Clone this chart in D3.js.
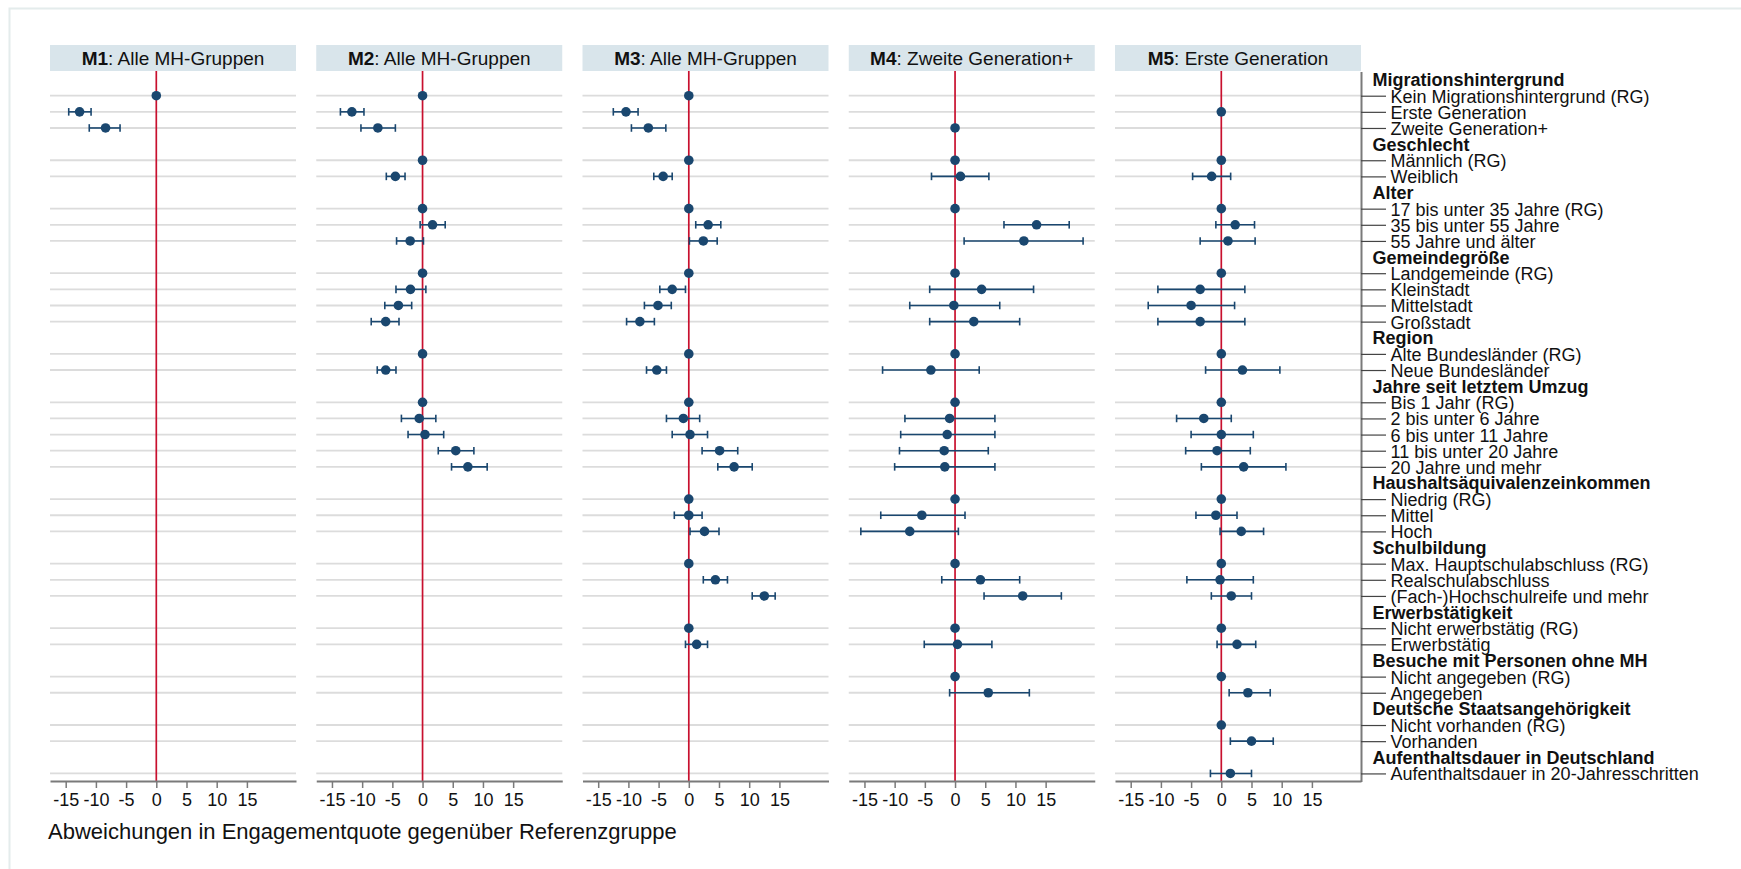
<!DOCTYPE html>
<html><head><meta charset="utf-8">
<script src="https://cdn.jsdelivr.net/npm/d3@7"></script>
<style>
html,body{margin:0;padding:0;background:#fff;}
text{font-family:"Liberation Sans",Arial,sans-serif;}
</style></head>
<body><svg id="c" width="1741" height="869"></svg>
<script>
const _ = null;
const rowLabels = [
 "Migrationshintergrund","Kein Migrationshintergrund (RG)","Erste Generation","Zweite Generation+",
 "Geschlecht","Männlich (RG)","Weiblich",
 "Alter","17 bis unter 35 Jahre (RG)","35 bis unter 55 Jahre","55 Jahre und älter",
 "Gemeindegröße","Landgemeinde (RG)","Kleinstadt","Mittelstadt","Großstadt",
 "Region","Alte Bundesländer (RG)","Neue Bundesländer",
 "Jahre seit letztem Umzug","Bis 1 Jahr (RG)","2 bis unter 6 Jahre","6 bis unter 11 Jahre","11 bis unter 20 Jahre","20 Jahre und mehr",
 "Haushaltsäquivalenzeinkommen","Niedrig (RG)","Mittel","Hoch",
 "Schulbildung","Max. Hauptschulabschluss (RG)","Realschulabschluss","(Fach-)Hochschulreife und mehr",
 "Erwerbstätigkeit","Nicht erwerbstätig (RG)","Erwerbstätig",
 "Besuche mit Personen ohne MH","Nicht angegeben (RG)","Angegeben",
 "Deutsche Staatsangehörigkeit","Nicht vorhanden (RG)","Vorhanden",
 "Aufenthaltsdauer in Deutschland","Aufenthaltsdauer in 20-Jahresschritten"
];
const headerLabels = ["Migrationshintergrund","Geschlecht","Alter","Gemeindegröße","Region",
 "Jahre seit letztem Umzug","Haushaltsäquivalenzeinkommen","Schulbildung","Erwerbstätigkeit",
 "Besuche mit Personen ohne MH","Deutsche Staatsangehörigkeit","Aufenthaltsdauer in Deutschland"];
const modelIds = ["M1","M2","M3","M4","M5"];
const modelTitles = ["Alle MH-Gruppen","Alle MH-Gruppen","Alle MH-Gruppen","Zweite Generation+","Erste Generation"];
const xTicks = [-15,-10,-5,0,5,10,15];
const xTitle = "Abweichungen in Engagementquote gegenüber Referenzgruppe";

// estimates / lower / upper bounds, aligned with rowLabels
const m1Est = [_,0,-12.7,-8.4, _,_,_, _,_,_,_, _,_,_,_,_, _,_,_, _,_,_,_,_,_, _,_,_,_, _,_,_,_, _,_,_, _,_,_, _,_,_, _,_];
const m1Lo  = [_,0,-14.5,-11.1, _,_,_, _,_,_,_, _,_,_,_,_, _,_,_, _,_,_,_,_,_, _,_,_,_, _,_,_,_, _,_,_, _,_,_, _,_,_, _,_];
const m1Hi  = [_,0,-10.8,-6.0, _,_,_, _,_,_,_, _,_,_,_,_, _,_,_, _,_,_,_,_,_, _,_,_,_, _,_,_,_, _,_,_, _,_,_, _,_,_, _,_];

const m2Est = [_,0,-11.7,-7.4, _,0,-4.5, _,0,1.65,-2.05, _,0,-2.0,-4.0,-6.1, _,0,-6.1, _,0,-0.55,0.4,5.5,7.5, _,_,_,_, _,_,_,_, _,_,_, _,_,_, _,_,_, _,_];
const m2Lo  = [_,0,-13.6,-10.2, _,0,-6.0, _,0,-0.4,-4.3, _,0,-4.4,-6.25,-8.5, _,0,-7.5, _,0,-3.5,-2.4,2.6,4.8, _,_,_,_, _,_,_,_, _,_,_, _,_,_, _,_,_, _,_];
const m2Hi  = [_,0,-9.7,-4.5, _,0,-2.9, _,0,3.75,0.15, _,0,0.55,-1.8,-3.9, _,0,-4.4, _,0,2.2,3.5,8.5,10.7, _,_,_,_, _,_,_,_, _,_,_, _,_,_, _,_,_, _,_];

const m3Est = [_,0,-10.4,-6.7, _,0,-4.25, _,0,3.2,2.4, _,0,-2.75,-5.1,-8.1, _,0,-5.3, _,0,-0.9,0.2,5.1,7.5, _,0,0,2.6, _,0,4.4,12.5, _,0,1.3, _,_,_, _,_,_, _,_];
const m3Lo  = [_,0,-12.5,-9.5, _,0,-5.8, _,0,1.15,0.1, _,0,-4.8,-7.35,-10.3, _,0,-7.0, _,0,-3.7,-2.75,2.2,4.8, _,0,-2.4,0.2, _,0,2.4,10.5, _,0,-0.55, _,_,_, _,_,_, _,_];
const m3Hi  = [_,0,-8.4,-3.8, _,0,-2.75, _,0,5.3,4.7, _,0,-0.55,-2.9,-5.7, _,0,-3.7, _,0,1.8,3.1,8.1,10.5, _,0,2.2,5.0, _,0,6.4,14.3, _,0,3.1, _,_,_, _,_,_, _,_];

const m4Est = [_,_,_,0, _,0,0.9, _,0,13.5,11.4, _,0,4.4,-0.2,3.1, _,0,-4.0, _,0,-0.9,-1.3,-1.8,-1.7, _,0,-5.5,-7.5, _,0,4.2,11.2, _,0,0.4, _,0,5.5, _,_,_, _,_];
const m4Lo  = [_,_,_,0, _,0,-3.9, _,0,8.1,1.5, _,0,-4.2,-7.5,-4.2, _,0,-12.0, _,0,-8.3,-9.0,-9.2,-10.0, _,0,-12.3,-15.6, _,0,-2.2,4.8, _,0,-5.1, _,0,-0.9, _,_,_, _,_];
const m4Hi  = [_,_,_,0, _,0,5.6, _,0,18.9,21.2, _,0,13.0,7.4,10.7, _,0,4.0, _,0,6.6,6.6,5.5,6.6, _,0,1.65,0.55, _,0,10.7,17.6, _,0,6.1, _,0,12.3, _,_,_, _,_];

const m5Est = [_,_,0,_, _,0,-1.6, _,0,2.3,1.1, _,0,-3.5,-5.0,-3.5, _,0,3.5, _,0,-2.9,0,-0.7,3.7, _,0,-0.9,3.3, _,0,-0.2,1.65, _,0,2.6, _,0,4.4, _,0,5.0, _,1.5];
const m5Lo  = [_,_,0,_, _,0,-4.75, _,0,-0.9,-3.5, _,0,-10.5,-12.1,-10.5, _,0,-2.6, _,0,-7.4,-5.0,-5.9,-3.3, _,0,-4.2,-0.2, _,0,-5.7,-1.65, _,0,-0.7, _,0,1.3, _,0,1.5, _,-1.8];
const m5Hi  = [_,_,0,_, _,0,1.55, _,0,5.5,5.6, _,0,3.9,2.2,3.9, _,0,9.7, _,0,1.65,5.3,4.8,10.7, _,0,2.6,7.0, _,0,5.3,5.0, _,0,5.7, _,0,8.1, _,0,8.6, _,5.0];

const estimates = [m1Est,m2Est,m3Est,m4Est,m5Est];
const lowers = [m1Lo,m2Lo,m3Lo,m4Lo,m5Lo];
const uppers = [m1Hi,m2Hi,m3Hi,m4Hi,m5Hi];

// ---- layout ----
const navy = "#1a476f", red = "#c8102e", grid = "#dcdcdc", axisCol = "#7a7a7a";
const panelLeft = 50, panelStep = 266.25, panelW = 246;
const plotTop = 71, plotBottom = 781;
const svg = d3.select("#c");

svg.append("rect").attr("x",9.5).attr("y",8.5).attr("width",1760).attr("height",900)
  .attr("fill","none").attr("stroke","#e4ecec").attr("stroke-width",2);

const y = d3.scaleLinear().domain([-0.5, rowLabels.length - 0.5]).range([plotTop + 0.5, plotBottom + 0.5]);
const x = d3.scaleLinear().domain([-17.6, 23.13]).range([0, panelW]);
const itemIdx = rowLabels.map((d,i)=>i).filter(i => !headerLabels.includes(rowLabels[i]));
const headIdx = rowLabels.map((d,i)=>i).filter(i => headerLabels.includes(rowLabels[i]));

modelIds.forEach((m, k) => {
  const g = svg.append("g").attr("transform", `translate(${panelLeft + k*panelStep},0)`);
  // header strip
  g.append("rect").attr("x",0).attr("y",45).attr("width",panelW).attr("height",26).attr("fill","#d9e5eb");
  const t = g.append("text").attr("x",panelW/2).attr("y",58).attr("dy","0.36em")
    .attr("text-anchor","middle").attr("font-size",19).attr("fill","#111");
  t.append("tspan").attr("font-weight","bold").text(m);
  t.append("tspan").text(": " + modelTitles[k]);
  // gridlines
  g.selectAll("line.grid").data(itemIdx).join("line").attr("class","grid")
    .attr("x1",0).attr("x2",panelW).attr("y1",d=>y(d)).attr("y2",d=>y(d))
    .attr("stroke",grid).attr("stroke-width",1.8);
  // zero line
  g.append("line").attr("x1",x(0)).attr("x2",x(0)).attr("y1",plotTop).attr("y2",plotBottom)
    .attr("stroke",red).attr("stroke-width",1.7);
  // x axis
  const ax = g.append("g").attr("transform",`translate(0,${plotBottom})`)
    .call(d3.axisBottom(x).tickValues(xTicks).tickSize(7).tickPadding(5).tickFormat(d3.format("d")).tickSizeOuter(0));
  ax.select(".domain").attr("stroke",axisCol).attr("stroke-width",2);
  ax.selectAll(".tick line").attr("stroke",axisCol).attr("stroke-width",1.5);
  ax.selectAll(".tick text").attr("font-size",18).attr("fill","#111")
    .attr("font-family","'Liberation Sans',Arial,sans-serif").text(d => d < 0 ? "-" + Math.abs(d) : d);
  // estimates
  const est = estimates[k], lo = lowers[k], hi = uppers[k];
  const pts = rowLabels.map((d,i)=>i).filter(i => est[i] !== null);
  const ci = pts.filter(i => lo[i] !== hi[i]);
  g.selectAll("line.ci").data(ci).join("line").attr("class","ci")
    .attr("x1",i=>x(lo[i])).attr("x2",i=>x(hi[i])).attr("y1",i=>y(i)).attr("y2",i=>y(i))
    .attr("stroke",navy).attr("stroke-width",1.6);
  ["lo","hi"].forEach(s => {
    g.selectAll("line.cap"+s).data(ci).join("line").attr("class","cap"+s)
      .attr("x1",i=>x(s==="lo"?lo[i]:hi[i])).attr("x2",i=>x(s==="lo"?lo[i]:hi[i]))
      .attr("y1",i=>y(i)-3.8).attr("y2",i=>y(i)+3.8)
      .attr("stroke",navy).attr("stroke-width",1.6);
  });
  g.selectAll("circle.pt").data(pts).join("circle").attr("class","pt")
    .attr("cx",i=>x(est[i])).attr("cy",i=>y(i)).attr("r",4.8).attr("fill",navy);
});

// right-hand category axis
const rx = panelLeft + 4*panelStep + panelW;
const ra = svg.append("g").attr("transform",`translate(${rx},0)`)
  .call(d3.axisRight(y).tickValues(itemIdx).tickSize(25).tickPadding(4.5).tickFormat(i => rowLabels[i]).tickSizeOuter(0));
ra.select(".domain").attr("stroke",axisCol).attr("stroke-width",2);
ra.selectAll(".tick line").attr("stroke","#444").attr("stroke-width",1.2);
ra.selectAll(".tick text").attr("font-size",18).attr("fill","#111").attr("dy","0.36em")
  .attr("font-family","'Liberation Sans',Arial,sans-serif");
svg.append("g").selectAll("text").data(headIdx).join("text")
  .attr("x", rx + 11.5).attr("y", i => y(i)).attr("dy","0.36em")
  .attr("font-size",18).attr("font-weight","bold").attr("fill","#111").text(i => rowLabels[i]);

svg.append("text").attr("x",48).attr("y",831).attr("dy","0.36em").attr("font-size",22).attr("fill","#111").text(xTitle);
</script></body></html>
